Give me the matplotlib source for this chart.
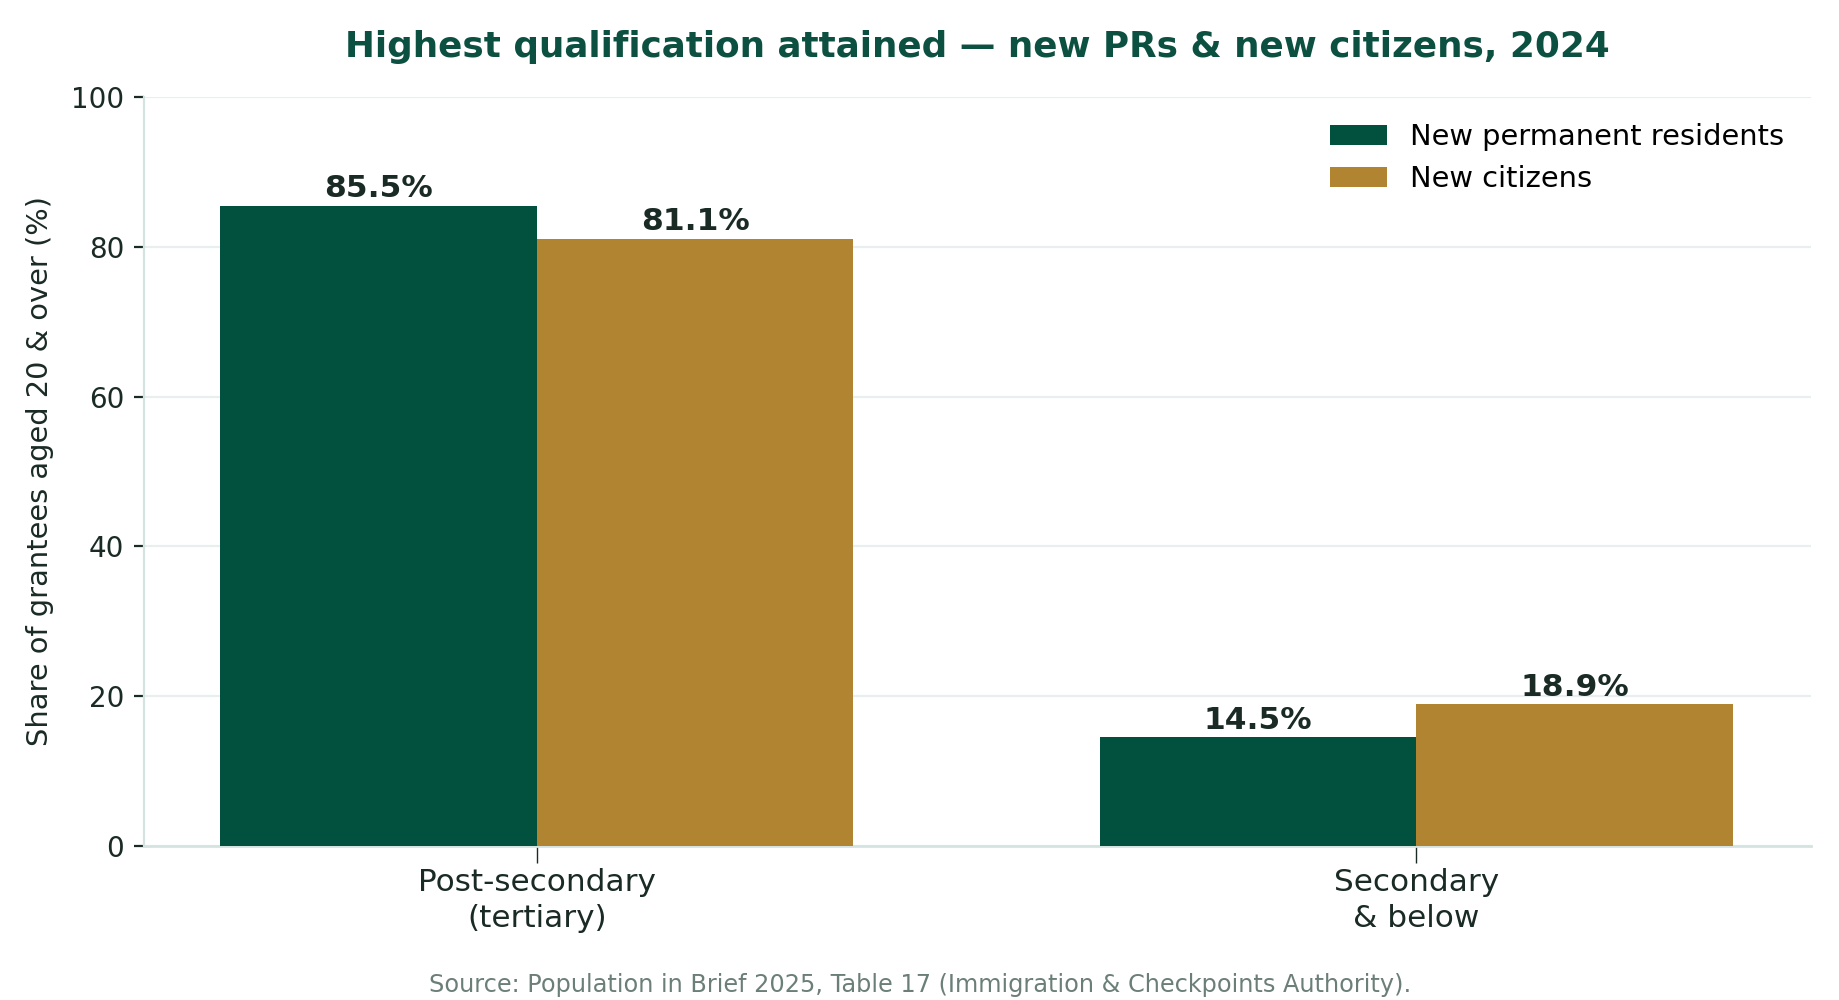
import matplotlib
matplotlib.use("Agg")
import matplotlib.pyplot as plt
import numpy as np

categories = ["Post-secondary\n(tertiary)", "Secondary\n& below"]
series_names = ["New permanent residents", "New citizens"]
pr_values = [85.5, 14.5]
citizen_values = [81.1, 18.9]

GREEN = "#02513F"
GOLD = "#B08431"
TITLE_COLOR = "#0B5040"
TEXT_COLOR = "#1A2A25"
GRID_COLOR = "#E8EFEE"
SPINE_COLOR = "#D5E3E0"

fig, ax = plt.subplots(figsize=(9.2, 5), dpi=200)
fig.subplots_adjust(left=0.078, right=0.984, top=0.903, bottom=0.154)

x = np.arange(len(categories))
width = 0.36

bars_pr = ax.bar(x - width / 2, pr_values, width, color=GREEN, label=series_names[0], zorder=3)
bars_cz = ax.bar(x + width / 2, citizen_values, width, color=GOLD, label=series_names[1], zorder=3)

for bars in (bars_pr, bars_cz):
    for b in bars:
        ax.annotate(
            f"{b.get_height():.1f}%",
            xy=(b.get_x() + b.get_width() / 2, b.get_height()),
            xytext=(0, 0.8),
            textcoords="offset points",
            ha="center",
            va="bottom",
            fontsize=11.3,
            fontweight="bold",
            color=TEXT_COLOR,
        )

ax.set_xlim(-0.447, 1.448)
ax.set_ylim(0, 100)
ax.set_yticks([0, 20, 40, 60, 80, 100])
ax.set_xticks(x)
ax.set_xticklabels(categories, fontsize=11.2, color=TEXT_COLOR, linespacing=1.3)
ax.tick_params(axis="y", labelsize=10, colors=TEXT_COLOR, length=3.5)
ax.tick_params(axis="x", length=6, width=0.5, colors=TEXT_COLOR, pad=2)

ax.set_ylabel("Share of grantees aged 20 & over (%)", fontsize=10.4, color=TEXT_COLOR, labelpad=6)
ax.set_title(
    "Highest qualification attained \u2014 new PRs & new citizens, 2024",
    fontsize=12.9,
    fontweight="bold",
    color=TITLE_COLOR,
    pad=14.5,
)

ax.grid(axis="y", color=GRID_COLOR, linewidth=0.8, zorder=0)
ax.spines["top"].set_visible(False)
ax.spines["right"].set_visible(False)
ax.spines["left"].set_color(SPINE_COLOR)
ax.spines["bottom"].set_color(SPINE_COLOR)
ax.spines["bottom"].set_linewidth(1.0)

ax.legend(frameon=False, fontsize=10.4, loc="upper right")

fig.text(
    0.5,
    0.008,
    "Source: Population in Brief 2025, Table 17 (Immigration & Checkpoints Authority).",
    ha="center",
    fontsize=8.65,
    color="#6B7F78",
)

fig.savefig("out.png", dpi=200)
